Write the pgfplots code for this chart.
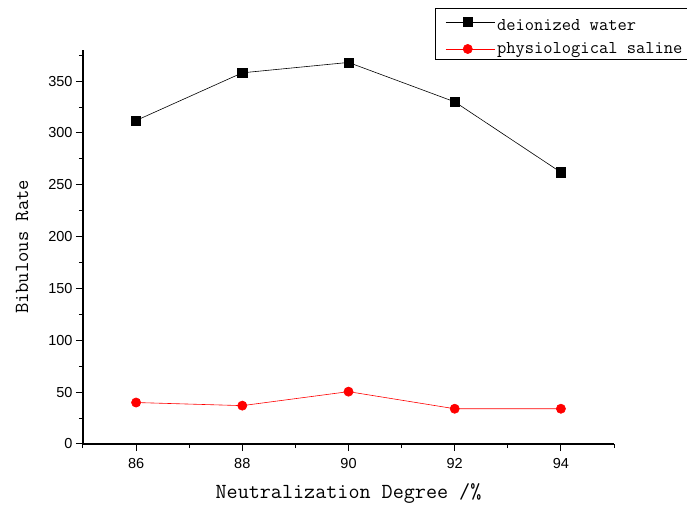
\documentclass[border=0pt]{standalone}
\usepackage{fontspec}
\setmainfont{Liberation Sans}
\usepackage{pgfplots}
\pgfplotsset{compat=1.18}
\definecolor{salred}{RGB}{255,0,0}
\begin{document}
\begin{tikzpicture}
\begin{axis}[
  scale only axis, width=531pt, height=394pt,
  xmin=85, xmax=95, ymin=0, ymax=380,
  axis lines=left,
  axis line style={line width=1.2pt, -},
  xtick={86,88,90,92,94}, minor xtick={85,87,89,91,93,95},
  ytick={0,50,100,150,200,250,300,350}, minor ytick={25,75,125,175,225,275,325,375},
  tick align=outside, major tick length=7pt, minor tick length=4pt,
  every tick/.style={black, line width=1pt},
  ticklabel style={font=\fontsize{14.5}{16}\selectfont},
  xticklabel style={yshift=-4pt},
  /pgf/number format/assume math mode=true,
  xlabel={Neutralization Degree /\%},
  ylabel={Bibulous Rate},
  xlabel style={font=\ttfamily\fontsize{21.5}{23}\selectfont, yshift=-8pt},
  ylabel style={font=\ttfamily\fontsize{20}{22}\selectfont, yshift=13pt},
  legend style={at={(rel axis cs:0.663,1.107)}, anchor=north west, draw=black,
    line width=0.8pt, font=\ttfamily\fontsize{18}{20}\selectfont,
    inner xsep=10pt, inner ysep=2pt, row sep=7pt, legend cell align=left},
  legend image code/.code={\path (0pt,0pt) -- (49pt,0pt);\draw[mark repeat=2,mark phase=2,#1] plot coordinates {(0pt,0pt) (22pt,0pt) (44pt,0pt)};},
]
\coordinate (sw) at (rel axis cs:0,0);
\addplot[black, line width=0.6pt, mark=square*, mark size=4.6pt, mark options={solid, fill=black}]
  coordinates {(86,312) (88,358) (90,368) (92,330) (94,262)};
\addlegendentry{\rule{0pt}{18pt}deionized water}
\addplot[salred, line width=0.6pt, mark=*, mark size=4.6pt, mark options={solid, fill=salred, draw=salred}]
  coordinates {(86,40) (88,37) (90,50.5) (92,34) (94,34)};
\addlegendentry{physiological saline}
\end{axis}
\pgfresetboundingbox
\path[use as bounding box] ([shift={(-83pt,-61pt)}]sw) rectangle ++(687pt,505pt);
\end{tikzpicture}
\end{document}
